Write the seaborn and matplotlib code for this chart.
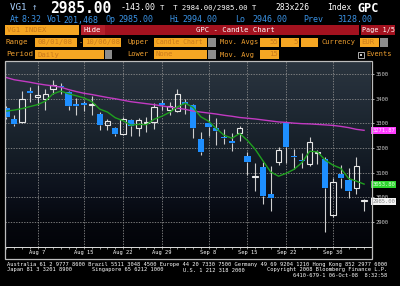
import matplotlib
matplotlib.use("Agg")
import matplotlib.pyplot as plt
import seaborn as sns
import numpy as np
import pandas as pd
from matplotlib.patches import Rectangle
from matplotlib.colors import LinearSegmentedColormap
from matplotlib.transforms import blended_transform_factory
from matplotlib.ticker import FixedLocator, NullFormatter

# ---------------- data ----------------
dates = ["08-01", "08-04", "08-05", "08-06", "08-07", "08-08", "08-11", "08-12", "08-13", "08-14",
         "08-15", "08-18", "08-19", "08-20", "08-21", "08-22", "08-25", "08-26", "08-27", "08-28",
         "08-29", "09-01", "09-02", "09-03", "09-04", "09-05", "09-08", "09-09", "09-10", "09-11",
         "09-12", "09-15", "09-16", "09-17", "09-18", "09-19", "09-22", "09-23", "09-24", "09-25",
         "09-26", "09-29", "09-30", "10-01", "10-02", "10-03", "10-06"]
opens = [3362, 3319, 3306, 3430, 3408, 3400, 3438, 3452, 3427, 3377,
         3382, 3375, 3339, 3295, 3283, 3258, 3315, 3280, 3300, 3306,
         3380, 3354, 3349, 3385, 3373, 3235, 3300, 3283, 3246, 3228,
         3262, 3168, 3083, 3122, 3014, 3145, 3300, 3169, 3150, 3136,
         3180, 3156, 2928, 3095, 3070, 3037, 2985]
highs = [3370, 3333, 3430, 3447, 3457, 3440, 3474, 3465, 3430, 3401,
         3392, 3410, 3346, 3316, 3285, 3326, 3319, 3320, 3327, 3384,
         3395, 3387, 3438, 3400, 3377, 3265, 3340, 3323, 3276, 3262,
         3291, 3185, 3138, 3145, 3127, 3203, 3304, 3195, 3179, 3243,
         3193, 3163, 3078, 3130, 3120, 3165, 2994]
lows = [3318, 3289, 3300, 3387, 3373, 3353, 3420, 3418, 3353, 3334,
        3351, 3333, 3272, 3272, 3249, 3252, 3249, 3250, 3266, 3279,
        3354, 3333, 3346, 3340, 3241, 3173, 3250, 3211, 3218, 3190,
        3227, 3091, 3025, 2975, 2946, 3130, 3138, 3114, 3118, 3126,
        3134, 2858, 2920, 3040, 2998, 3015, 2946]
closes = [3325, 3296, 3398, 3424, 3414, 3418, 3454, 3447, 3369, 3371,
          3376, 3378, 3295, 3308, 3258, 3316, 3288, 3312, 3302, 3366,
          3376, 3370, 3420, 3378, 3281, 3184, 3284, 3269, 3241, 3222,
          3280, 3145, 3086, 3007, 2999, 3192, 3206, 3164, 3146, 3226,
          3183, 3037, 3064, 3078, 3024, 3128, 2985]
ma5 = [3350, 3354, 3360, 3368, 3376, 3390, 3420, 3431, 3420, 3412,
       3403, 3388, 3358, 3346, 3323, 3311, 3293, 3296, 3295, 3317,
       3329, 3345, 3367, 3382, 3365, 3327, 3309, 3279, 3252, 3240,
       3259, 3231, 3195, 3148, 3103, 3086, 3098, 3114, 3141, 3187,
       3185, 3151, 3131, 3118, 3077, 3066, 3054]
ma55 = [3486, 3477, 3472, 3467, 3461, 3456, 3452, 3447, 3437, 3429,
        3422, 3417, 3411, 3405, 3400, 3394, 3388, 3384, 3380, 3376,
        3371, 3366, 3362, 3357, 3350, 3346, 3342, 3338, 3333, 3329,
        3324, 3321, 3318, 3314, 3310, 3306, 3304, 3301, 3299, 3298,
        3296, 3294, 3292, 3288, 3283, 3276, 3272]
x_tick_dates = ["08-07", "08-15", "08-22", "08-29", "09-08", "09-15", "09-22", "09-30"]
x_tick_labels = ["Aug 7", "Aug 15", "Aug 22", "Aug 29", "Sep 8", "Sep 15", "Sep 22", "Sep 30"]
y_ticks = [2900, 3000, 3100, 3200, 3300, 3400, 3500]
last_ma55 = 3271.87
last_ma5 = 3053.80
last_price = 2985.00

df = pd.DataFrame({"date": dates, "open": opens, "high": highs, "low": lows,
                   "close": closes, "ma5": ma5, "ma55": ma55})
df["i"] = np.arange(len(df))

# ---------------- figure ----------------
W, H = 400, 286
fig = plt.figure(figsize=(4.0, 2.86), dpi=100, facecolor="black")
MONO = "DejaVu Sans Mono"


def fx(x):
    return x / W


def fy(y):
    return 1 - y / H


def ftext(x, y, s, color="white", size=6.0, weight="normal", ha="left"):
    fig.text(fx(x), fy(y), s, color=color, fontsize=size, fontweight=weight,
             ha=ha, va="center", family=MONO)


def frect(x0, y0, x1, y1, fc, ec="none", lw=0.0):
    fig.add_artist(Rectangle((fx(x0), fy(y1)), fx(x1) - fx(x0), fy(y0) - fy(y1),
                             transform=fig.transFigure, facecolor=fc,
                             edgecolor=ec, linewidth=lw))


ORANGE = "#f0a030"
BOXFILL = "#f5a623"
BOXTEXT = "#c9791c"
BLUE_T = "#3a92e4"
RED = "#a3121f"
LBL = 5.0
BOX = 5.2

# header line 1
ftext(10, 8, "VG1 \u2191", color="#a8d0ff", size=6.6)
ftext(50, 8.5, "2985.00", color="white", size=10.5, weight="bold")
ftext(121, 8, "-143.00", color="white", size=6.0)
ftext(160, 8, "T  T 2984.00/2985.00 T", color="white", size=5.2)
ftext(275, 8, "283x226", color="white", size=5.8)
ftext(327, 8, "Index", color="white", size=5.8)
ftext(357, 8.5, "GPC", color="white", size=8.5, weight="bold")

# header line 2
for xx, s in [(10, "At"), (22, "8:32"), (47, "Vol"), (63, "201,468"), (105, "Op"),
              (118, "2985.00"), (170, "Hi"), (182, "2994.00"), (235, "Lo"),
              (252, "2946.00"), (303, "Prev"), (337, "3128.00")]:
    ftext(xx, 20, s, color=BLUE_T, size=6.0)

# row 3: title bar
frect(5, 25, 79, 35, BOXFILL)
ftext(7, 30, "VG1 INDEX", color=BOXTEXT, size=BOX)
frect(81, 25, 359, 35, RED)
frect(81, 25, 105, 35, "#b5202c")
ftext(84, 30, "Hide", color="white", size=BOX)
ftext(196, 30, "GPC - Candle Chart", color="white", size=BOX)
frect(361, 25, 395, 35, RED)
ftext(378, 30, "Page 1/5", color="white", size=4.9, ha="center")

# row 4
r4 = 42.5
ftext(6, r4, "Range", color=ORANGE, size=LBL + 0.4)
frect(35, 38, 77, 47, BOXFILL)
ftext(37, r4, "08/01/08", color=BOXTEXT, size=BOX)
ftext(78.5, r4, "-", color=ORANGE, size=LBL)
frect(83, 38, 121, 47, BOXFILL)
ftext(85, r4, "10/06/08", color=BOXTEXT, size=BOX)
ftext(127, r4, "Upper", color=ORANGE, size=LBL)
frect(154, 38, 207, 47, BOXFILL)
ftext(156, r4, "Candle Chart", color=BOXTEXT, size=4.7)
frect(208, 38, 216, 47, "#8c8c8c")
ftext(220, r4, "Mov. Avgs", color=ORANGE, size=LBL)
frect(260, 38, 279, 47, BOXFILL)
ftext(278, r4, "55", color=BOXTEXT, size=BOX, ha="right")
frect(281, 38, 299, 47, BOXFILL)
ftext(298, r4, "5", color=BOXTEXT, size=BOX, ha="right")
frect(301, 38, 318, 47, BOXFILL)
ftext(322, r4, "Currency", color=ORANGE, size=LBL)
frect(360, 38, 379, 47, BOXFILL)
ftext(361, r4, "EUR", color=BOXTEXT, size=BOX)
frect(380, 38, 388, 47, "#8c8c8c")

# row 5
r5 = 54.5
ftext(6, r5, "Period", color=ORANGE, size=LBL + 0.4)
frect(35, 50, 104, 59, BOXFILL)
ftext(37, r5, "Daily", color=BOXTEXT, size=BOX)
frect(105, 50, 112, 59, "#8c8c8c")
ftext(127, r5, "Lower", color=ORANGE, size=LBL)
frect(154, 50, 207, 59, BOXFILL)
ftext(156, r5, "None", color=BOXTEXT, size=BOX)
frect(208, 50, 216, 59, "#8c8c8c")
ftext(220, r5, "Mov. Avg", color=ORANGE, size=LBL)
frect(260, 50, 279, 59, BOXFILL)
ftext(278, r5, "15", color=BOXTEXT, size=BOX, ha="right")
frect(358, 51.5, 364, 57.5, "black", ec="#c8c8c8", lw=0.6)
frect(360, 53.5, 362, 55.5, "#c8c8c8")
ftext(366, r5, "Events", color=ORANGE, size=LBL)

# panel frame
frect(4.5, 60.5, 371.5, 258.5, "none", ec="#bdbdbd", lw=0.9)

# ---------------- chart axes ----------------
ax = fig.add_axes([fx(5), fy(247), (371 - 5) / W, (247 - 61) / H])
ax.set_facecolor("black")
n = len(df)
x0, x1 = -0.18, 46.89
y0, y1 = 2799, 3553
ax.set_xlim(x0, x1)
ax.set_ylim(y0, y1)

cmap = LinearSegmentedColormap.from_list(
    "bg", [(0.0, "#030409"), (0.12, "#05070d"), (0.3, "#0c111c"),
           (0.55, "#172029"), (0.8, "#222c37"), (1.0, "#2b353f")])
grad = np.linspace(0, 1, 256).reshape(-1, 1)
ax.imshow(grad, extent=[x0, x1, y0, y1], origin="lower", aspect="auto",
          cmap=cmap, zorder=0, interpolation="bicubic")

# grid
tick_pos = [dates.index(d) for d in x_tick_dates]
for t in tick_pos:
    ax.axvline(t, color="#8c8c8c", lw=0.6, ls=(0, (1.6, 1.6)), zorder=1)
for yv in y_ticks:
    ax.axhline(yv, color="#8c8c8c", lw=0.6, ls=(0, (1.6, 1.6)), zorder=1)

# candles
o = df["open"].to_numpy(float)
c = df["close"].to_numpy(float)
hi = df["high"].to_numpy(float)
lo = df["low"].to_numpy(float)
xs = df["i"].to_numpy()
up = c >= o
blo = np.minimum(o, c)
bhi = np.maximum(o, c)
hgt = np.maximum(bhi - blo, 5)
ax.vlines(xs, lo, blo, color="#cfcfcf", lw=0.8, zorder=3)
ax.vlines(xs, bhi, hi, color="#cfcfcf", lw=0.8, zorder=3)
ax.bar(xs[~up], hgt[~up], bottom=blo[~up], width=0.8, color="#1e8fff",
       edgecolor="none", zorder=4)
ax.bar(xs[up], hgt[up], bottom=blo[up], width=0.7, facecolor="none",
       edgecolor="#e8e8e8", linewidth=0.8, zorder=4)

# moving averages
sns.lineplot(data=df, x="i", y="ma55", ax=ax, color="#c23ac2", lw=1.0, zorder=5)
sns.lineplot(data=df, x="i", y="ma5", ax=ax, color="#1fa01f", lw=1.0, zorder=5)
ax.set_xlabel("")
ax.set_ylabel("")

# axes styling
for s in ["top", "left", "right"]:
    ax.spines[s].set_visible(False)
ax.spines["bottom"].set_color("#e0e0e0")
ax.spines["bottom"].set_linewidth(0.7)
ax.spines["bottom"].set_linestyle((0, (1.5, 1.0)))

ax.set_xticks(tick_pos)
ax.set_xticklabels(x_tick_labels, family=MONO, fontsize=3.9, color="white")
ax.xaxis.set_minor_locator(FixedLocator(list(range(n))))
ax.xaxis.set_minor_formatter(NullFormatter())
ax.tick_params(axis="x", which="both", direction="out", length=1.6, width=0.5,
               color="#d0d0d0", pad=0.8)

ax.yaxis.tick_right()
ax.set_yticks(y_ticks)
ax.set_yticklabels([str(v) for v in y_ticks], family=MONO, fontsize=4.0,
                   color="#c8c8c8")
ax.tick_params(axis="y", which="both", direction="out", length=2.5, width=0.6,
               color="#c8c8c8", pad=1.0)

# last value tags on the right
tr = blended_transform_factory(ax.transAxes, ax.transData)
for val, fc, tc in [(last_ma55, "#ff3cff", "#ffe0ff"),
                    (last_ma5, "#2fd42f", "#d8ffd8"),
                    (last_price, "#f4f4f4", "#8a8a8a")]:
    ax.text(1.004, val, f"{val:.2f}", transform=tr, ha="left", va="center",
            family=MONO, fontsize=4.0, color=tc, clip_on=False, zorder=10,
            bbox=dict(boxstyle="square,pad=0.18", fc=fc, ec="none"))

# footer
FS = 3.85
ftext(7, 264.5, "Australia 61 2 9777 8600 Brazil 5511 3048 4500 Europe 44 20 7330 7500 "
      "Germany 49 69 9204 1210 Hong Kong 852 2977 6000", size=FS)
ftext(7, 270, "Japan 81 3 3201 8900", size=FS)
ftext(92, 270, "Singapore 65 6212 1000", size=FS)
ftext(183, 270, "U.S. 1 212 318 2000", size=FS)
ftext(387, 270, "Copyright 2008 Bloomberg Finance L.P.", size=FS, ha="right")
ftext(387, 275.5, "6410-679-1 06-Oct-08  8:32:58", size=FS, ha="right")

fig.savefig("out.png", dpi=100, facecolor="black")
